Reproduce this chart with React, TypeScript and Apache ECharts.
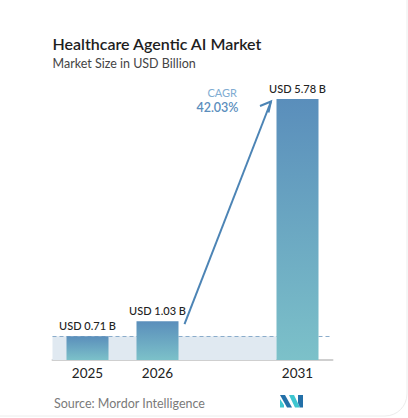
import React, { useEffect, useRef } from "react";
import * as echarts from "echarts";

const categories = ["2025", "2026", "", "2031"];
const marketSize: (number | string)[] = [0.71, 1.03, "-", 5.78];
const baseValue = 0.71;
const arrowFrom = [1, 1.03];
const arrowTo = [3, 5.78];
const titleText = "Healthcare Agentic AI Market";
const subtitleText = "Market Size in USD Billion";
const cagrLabel = "CAGR";
const cagrValue = "42.03%";
const sourceText = "Source: Mordor Intelligence";

const FONT = "Lato, 'Open Sans', sans-serif";

export default function App() {
  const ref = useRef<HTMLDivElement>(null);
  useEffect(() => {
    document.body.style.margin = "0";
    const chart = echarts.init(ref.current!, undefined, { renderer: "svg" });
    const barGrad = new echarts.graphic.LinearGradient(0, 0, 0, 1, [
      { offset: 0, color: "#5a8ebb" },
      { offset: 1, color: "#7cc1c9" },
    ]);
    chart.setOption({
      animation: false,
      backgroundColor: "#ffffff",
      textStyle: { fontFamily: FONT },
      grid: { left: 52.5, right: 75.5, top: 99, bottom: 58 },
      xAxis: {
        type: "category",
        data: categories,
        axisLine: { lineStyle: { color: "#cfcfcf", width: 2 } },
        axisTick: { show: false },
        axisLabel: { color: "#222", fontSize: 13.5, margin: 6, fontFamily: FONT },
      },
      yAxis: {
        type: "value",
        min: 0.2,
        max: 5.78,
        show: false,
        splitLine: { show: false },
      },
      series: [
        {
          type: "custom",
          z: 1,
          data: [[0, baseValue]],
          encode: { x: 0, y: 1 },
          renderItem: (params: any, api: any) => {
            const cs = params.coordSys;
            const bw = api.size([1, 0])[0] * 0.6;
            const top = api.coord([api.value(0), api.value(1)])[1];
            const right = api.coord([3, api.value(1)])[0] - bw / 2;
            return {
              type: "rect",
              shape: { x: cs.x, y: top, width: right - cs.x, height: cs.y + cs.height - top },
              style: { fill: "#e0e9f1" },
            };
          },
        },
        {
          type: "bar",
          z: 3,
          data: marketSize,
          barWidth: "60%",
          itemStyle: { color: barGrad },
          label: {
            show: true,
            position: "top",
            distance: 5,
            color: "#222",
            fontSize: 11,
            fontWeight: 500,
            fontFamily: FONT,
            formatter: (p: any) => `USD ${p.value} B`,
          },
          markLine: {
            silent: true,
            symbol: "none",
            label: { show: false },
            lineStyle: { color: "#8aaccb", type: [4, 3], width: 1 },
            data: [{ yAxis: baseValue }],
            z: 2,
          },
        },
        {
          type: "custom",
          z: 4,
          data: [[arrowFrom[0], arrowFrom[1], arrowTo[0], arrowTo[1]]],
          encode: { x: [0, 2], y: [1, 3] },
          renderItem: (params: any, api: any) => {
            const bw = api.size([1, 0])[0] * 0.6;
            const s = api.coord([api.value(0), api.value(1)]);
            const e = api.coord([api.value(2), api.value(3)]);
            const x1 = s[0] + bw / 2 + 6;
            const y1 = s[1] + 3;
            const x2 = e[0] - bw / 2 - 5.5;
            const y2 = e[1] + 2.5;
            const stroke = "#4c84b5";
            return {
              type: "group",
              children: [
                { type: "line", shape: { x1, y1, x2, y2 }, style: { stroke, lineWidth: 2 } },
                {
                  type: "polyline",
                  shape: { points: [[x2 - 11, y2 + 4.5], [x2, y2], [x2 - 2.5, y2 + 11]] },
                  style: { stroke, fill: "none", lineWidth: 2 },
                },
              ],
            };
          },
        },
      ],
      graphic: [
        {
          type: "text",
          left: 52.5,
          top: 35,
          style: { text: titleText, fontSize: 16, fontWeight: 600, fill: "#1e1e1e", fontFamily: FONT },
        },
        {
          type: "text",
          left: 52.5,
          top: 57,
          style: { text: subtitleText, fontSize: 12.5, fill: "#444", fontFamily: FONT },
        },
        {
          type: "text",
          x: 237,
          y: 92,
          style: { text: cagrLabel, fontSize: 11, fill: "#80acd2", align: "right", verticalAlign: "middle", fontFamily: FONT },
        },
        {
          type: "text",
          x: 238.5,
          y: 107,
          style: { text: cagrValue, fontSize: 12.5, fontWeight: 600, fill: "#5b8ebd", align: "right", verticalAlign: "middle", fontFamily: FONT },
        },
        {
          type: "text",
          x: 54,
          y: 403,
          style: { text: sourceText, fontSize: 12.5, fill: "#7a7a7a", verticalAlign: "middle", fontFamily: FONT },
        },
        {
          type: "group",
          children: [
            { type: "polygon", shape: { points: [[280, 395], [285, 395], [292, 407.5], [287, 407.5]] }, style: { fill: "#2370a8" } },
            { type: "polygon", shape: { points: [[280, 399], [284, 405], [284, 407.5], [280, 407.5]] }, style: { fill: "#3ec6d0" } },
            { type: "polygon", shape: { points: [[289, 395], [294, 395], [300, 407.5], [295, 407.5]] }, style: { fill: "#3ec6d0" } },
            { type: "polygon", shape: { points: [[298, 395], [303, 395], [303, 407.5], [300, 407.5], [298, 403]] }, style: { fill: "#2370a8" } },
          ],
        },
        {
          type: "rect",
          shape: { x: -30, y: -30, width: 437, height: 446, r: 22 },
          style: { fill: "none", stroke: "#ececec", lineWidth: 1 },
        },
      ],
    });
    return () => chart.dispose();
  }, []);
  return <div ref={ref} style={{ width: 408, height: 418 }} />;
}
